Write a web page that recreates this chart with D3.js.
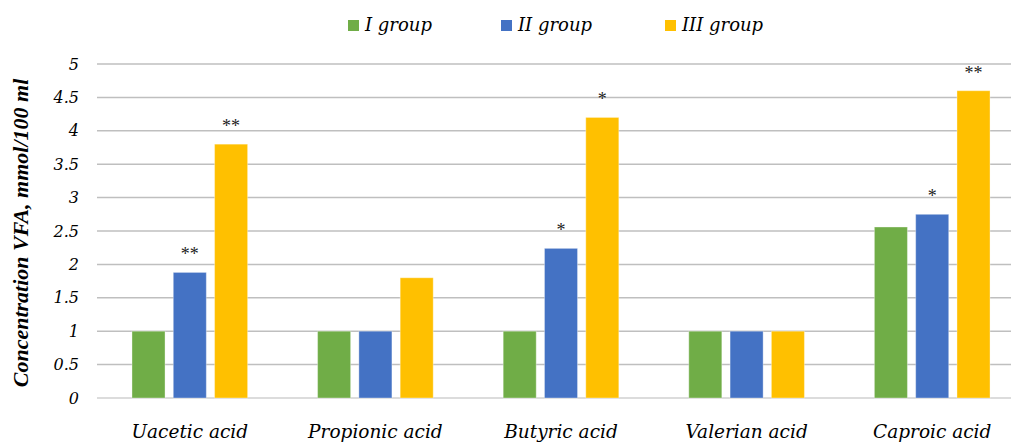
<!DOCTYPE html>
<html lang="en">
<head>
    <meta charset="UTF-8">
    <title>VFA concentration</title>
    <style>
        body {
            margin: 0;
            padding: 0;
            background: #fff;
            overflow: hidden;
        }
        text {
            font-family: "DejaVu Serif", serif;
            font-style: italic;
            fill: #000;
        }
    </style>
</head>
<body>
<svg id="chart"></svg>

<script src="https://d3js.org/d3.v7.min.js"></script>
<script>
    // Data
    var categories = ["Uacetic acid", "Propionic acid", "Butyric acid", "Valerian acid", "Caproic acid"];
    var groups = ["I group", "II group", "III group"];
    var group1 = [1.0, 1.0, 1.0, 1.0, 2.56];
    var group2 = [1.88, 1.0, 2.24, 1.0, 2.75];
    var group3 = [3.8, 1.8, 4.2, 1.0, 4.6];
    var marks2 = ["**", "", "*", "", "*"];
    var marks3 = ["**", "", "*", "", "**"];
    var yTicks = [0, 0.5, 1, 1.5, 2, 2.5, 3, 3.5, 4, 4.5, 5];
    var colors = ["#70ad47", "#4472c4", "#ffc000"];

    var series = [group1, group2, group3];
    var marks = [[], marks2, marks3];

    var width = 1011, height = 445;
    var margin = {top: 64, right: -14, bottom: 47, left: 97};

    var svg = d3.select("#chart")
        .attr("width", width)
        .attr("height", height);

    var x0 = d3.scaleBand()
        .domain(categories)
        .range([margin.left, width - margin.right])
        .paddingInner(0.377)
        .paddingOuter(0.1885);

    var x1 = d3.scaleBand()
        .domain(d3.range(groups.length))
        .range([0, x0.bandwidth()])
        .paddingInner(0.2);

    var y = d3.scaleLinear()
        .domain([0, 5])
        .range([height - margin.bottom, margin.top]);

    // gridlines
    svg.append("g")
        .selectAll("line")
        .data(yTicks)
        .enter()
        .append("line")
        .attr("x1", margin.left)
        .attr("x2", width)
        .attr("y1", d => y(d))
        .attr("y2", d => y(d))
        .attr("stroke", d => d === 0 ? "#d0d0d0" : "#bfbfbf")
        .attr("stroke-width", 1.5);

    // y tick labels
    svg.append("g")
        .selectAll("text")
        .data(yTicks)
        .enter()
        .append("text")
        .attr("x", 79)
        .attr("y", d => y(d))
        .attr("dy", "0.35em")
        .attr("text-anchor", "end")
        .style("font-size", "16px")
        .text(d => d);

    // bars
    var cat = svg.append("g")
        .selectAll("g")
        .data(categories)
        .enter()
        .append("g")
        .attr("transform", d => "translate(" + x0(d) + ",0)");

    cat.selectAll("rect")
        .data((d, i) => series.map((s, j) => ({j: j, v: s[i]})))
        .enter()
        .append("rect")
        .attr("x", d => x1(d.j))
        .attr("y", d => y(d.v))
        .attr("width", x1.bandwidth())
        .attr("height", d => y(0) - y(d.v))
        .attr("fill", d => colors[d.j])
        .attr("stroke", "#ffffff")
        .attr("stroke-opacity", 0.35)
        .attr("stroke-width", 1);

    // significance marks
    cat.selectAll("text.mark")
        .data((d, i) => series.map((s, j) => ({j: j, v: s[i], m: marks[j][i] || ""})))
        .enter()
        .append("text")
        .attr("class", "mark")
        .attr("x", d => x1(d.j) + x1.bandwidth() / 2)
        .attr("y", d => y(d.v) - 12)
        .attr("text-anchor", "middle")
        .style("font-family", "'Liberation Serif', serif")
        .style("font-style", "normal")
        .style("font-size", "18px")
        .style("fill", "#222")
        .text(d => d.m);

    // category labels
    svg.append("g")
        .selectAll("text")
        .data(categories)
        .enter()
        .append("text")
        .attr("x", d => x0(d) + x0.bandwidth() / 2)
        .attr("y", 438)
        .attr("text-anchor", "middle")
        .style("font-size", "18.5px")
        .text(d => d);

    // y axis title
    svg.append("text")
        .attr("transform", "translate(28,233) rotate(-90)")
        .attr("text-anchor", "middle")
        .style("font-family", "'Liberation Serif', serif")
        .style("font-size", "22px")
        .style("font-weight", "bold")
        .text("Concentration VFA, mmol/100 ml");

    // legend
    var legendX = [348, 501, 665];
    var legend = svg.append("g")
        .selectAll("g")
        .data(groups)
        .enter()
        .append("g")
        .attr("transform", (d, i) => "translate(" + legendX[i] + ",20)");

    legend.append("rect")
        .attr("width", 11)
        .attr("height", 11)
        .attr("fill", (d, i) => colors[i]);

    legend.append("text")
        .attr("x", 17)
        .attr("y", 11)
        .style("font-size", "18px")
        .text(d => d);
</script>
</body>
</html>
